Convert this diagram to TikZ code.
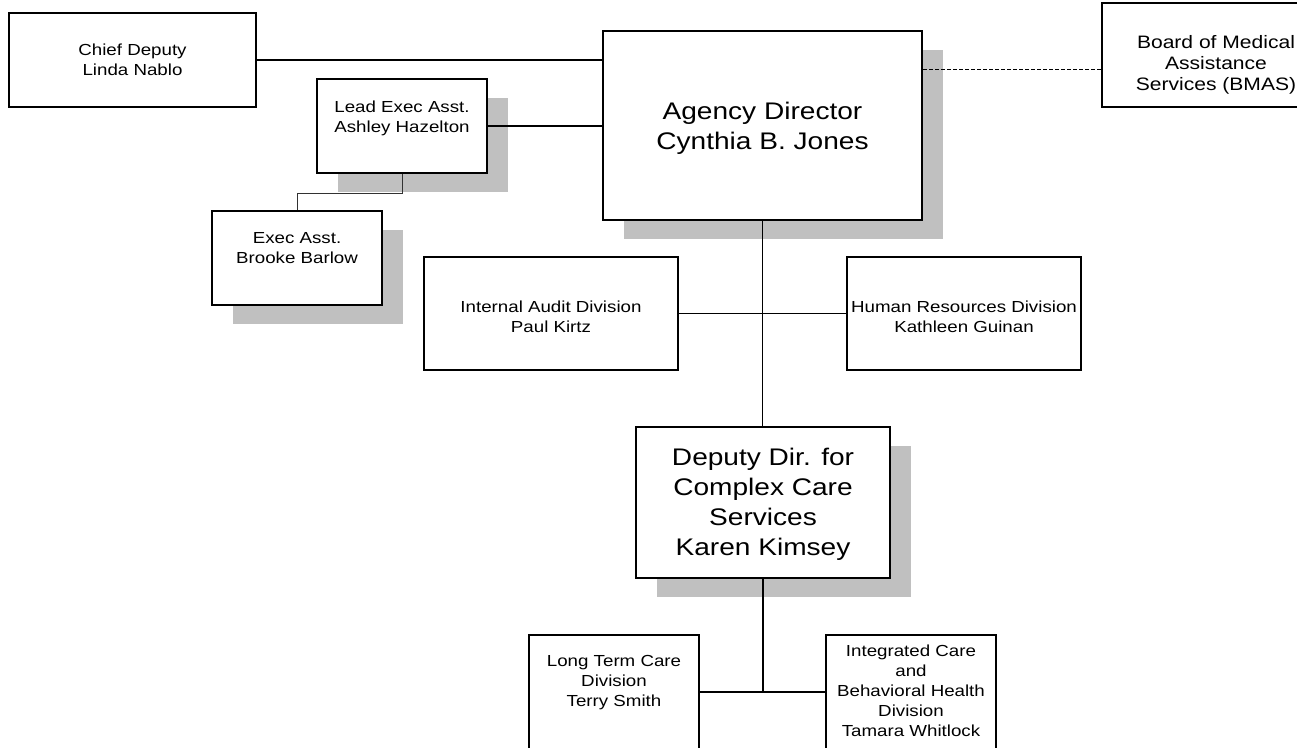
\documentclass[tikz,border=0pt]{standalone}
\usepackage{fontspec}
\setmainfont[FakeStretch=1.17]{Liberation Sans}
\usetikzlibrary{shadows}
\definecolor{shade}{RGB}{192,192,192}
\definecolor{thinline}{RGB}{50,50,50}
\tikzset{
  orgbox/.style={draw=black, line width=2pt, fill=white, rectangle, inner sep=0pt},
  shadowed/.style={drop shadow={shadow xshift=20.5pt, shadow yshift=-19pt, fill=shade, opacity=1}},
  smalltext/.style={font=\fontsize{16}{20}\selectfont, align=center, inner sep=0pt, anchor=north},
  midtext/.style={font=\fontsize{18}{21}\selectfont, align=center, inner sep=0pt, anchor=north},
  bigtext/.style={font=\fontsize{24}{30}\selectfont, align=center, inner sep=0pt, anchor=north},
  link/.style={line width=1.4pt, draw=black},
  sublink/.style={line width=1pt, draw=thinline},
  boardlink/.style={line width=1pt, draw=black, dash pattern=on 4pt off 2pt},
}
% struts fixing the height of each first text line
\newcommand\capS{\rule{0pt}{12pt}}
\newcommand\capM{\rule{0pt}{13.5pt}}
\newcommand\capL{\rule{0pt}{18pt}}
\begin{document}
\begin{tikzpicture}[x=1pt, y=-1pt]
\useasboundingbox (0,0) rectangle (1297,747);
\fill[white] (0,0) rectangle (1297,747);
\clip (0,0) rectangle (1297,747);

% boxes
\node[orgbox, minimum width=247pt, minimum height=94pt] (chief) at (132.5,60) {};
\node[orgbox, shadowed, minimum width=170pt, minimum height=94pt] (lead) at (402,126) {};
\node[orgbox, shadowed, minimum width=170pt, minimum height=94pt] (exec) at (297,258) {};
\node[orgbox, shadowed, minimum width=319pt, minimum height=189pt] (agency) at (762.5,125.5) {};
\node[orgbox, minimum width=228pt, minimum height=104pt] (bmas) at (1216,55) {};
\node[orgbox, minimum width=254pt, minimum height=113pt] (audit) at (551,313.5) {};
\node[orgbox, minimum width=234pt, minimum height=113pt] (hr) at (964,313.5) {};
\node[orgbox, shadowed, minimum width=254pt, minimum height=151pt] (deputy) at (763,502.5) {};
\node[orgbox, minimum width=170pt, minimum height=155pt] (ltc) at (614,712.5) {};
\node[orgbox, minimum width=170pt, minimum height=155pt] (icb) at (911,712.5) {};

% texts
\node[smalltext] (chieft) at (132.5,43) {\capS Chief Deputy\\Linda Nablo};
\node[smalltext] (leadt) at (402,100) {\capS Lead Exec Asst.\\Ashley Hazelton};
\node[smalltext] (exect) at (297,231) {\capS Exec Asst.\\Brooke Barlow};
\node[bigtext] (agencyt) at (762.5,101) {\capL Agency Director\\Cynthia B. Jones};
\node[midtext] (bmast) at (1216,34.5) {\capM Board of Medical\\Assistance\\Services (BMAS)};
\node[smalltext] (auditt) at (551,300) {\capS Internal Audit Division\\Paul Kirtz};
\node[smalltext] (hrt) at (964,300) {\capS Human Resources Division\\Kathleen Guinan};
\node[bigtext] (deputyt) at (763,447) {\capL Deputy Dir. for\\Complex Care\\Services\\Karen Kimsey};
\node[smalltext] (ltct) at (614,654) {\capS Long Term Care\\Division\\Terry Smith};
\node[smalltext] (icbt) at (911,644) {\capS Integrated Care\\and\\Behavioral Health\\Division\\Tamara Whitlock};

% connectors
\draw[link] (chief.east) -- (chief.east -| agency.west);
\draw[link] (lead.east) -- (lead.east -| agency.west);
\draw[sublink] (lead.south) -- ++(0,19) -| (exec.north);
\draw[boardlink] ([yshift=-14pt]bmas.west) -- ([yshift=-14pt]bmas.west -| agency.east);
\draw[link] (agency.south) -- (agency.south |- deputy.north);
\draw[link] (audit.east) -- (hr.west);
\path (deputy.south) ++(0,113) coordinate (join);
\draw[link] (deputy.south) -- (join);
\draw[link] (ltc.east |- join) -- (icb.west |- join);
\end{tikzpicture}
\end{document}
